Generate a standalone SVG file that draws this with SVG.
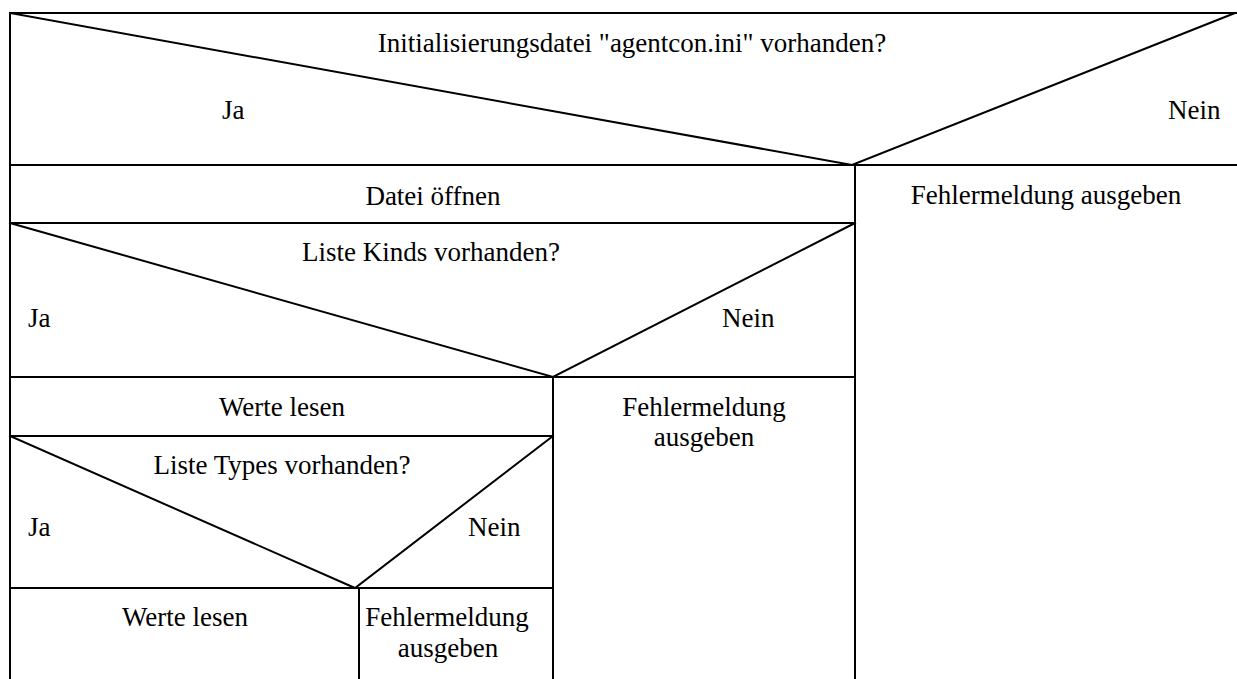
<svg xmlns="http://www.w3.org/2000/svg" width="1237" height="679" viewBox="0 0 1237 679">
  <style>
    .ln { stroke: #000; stroke-width: 2; fill: none; stroke-linecap: square; }
    text { font-family: "Liberation Serif", "Times New Roman", serif; font-size: 27px; fill: #000; }
    .c { text-anchor: middle; }
  </style>
  <rect width="1237" height="679" fill="#fff"/>

  <!-- decision: init file present -->
  <g id="decision-ini">
    <path class="ln" d="M10 13 H1237 M10 13 V165 M10 13 L852 165 L1235 13 M10 165 H1237"/>
    <text class="c" x="632" y="52">Initialisierungsdatei "agentcon.ini" vorhanden?</text>
    <text x="222" y="119">Ja</text>
    <text x="1168" y="119">Nein</text>
  </g>

  <!-- yes branch -->
  <g id="open-file">
    <path class="ln" d="M10 165 V223 M10 223 H855"/>
    <text class="c" x="433" y="205">Datei öffnen</text>
  </g>

  <g id="decision-kinds">
    <path class="ln" d="M10 223 V377 M10 223 L553 377 L855 223 M10 377 H855"/>
    <text class="c" x="431" y="261">Liste Kinds vorhanden?</text>
    <text x="28" y="327">Ja</text>
    <text x="722" y="327">Nein</text>
  </g>

  <g id="read-kinds">
    <path class="ln" d="M10 377 V436 M10 436 H553"/>
    <text class="c" x="282" y="416">Werte lesen</text>
  </g>

  <g id="decision-types">
    <path class="ln" d="M10 436 V588 M10 436 L355 588 L553 436 M10 588 H553"/>
    <text class="c" x="282" y="474">Liste Types vorhanden?</text>
    <text x="28" y="536">Ja</text>
    <text x="468" y="536">Nein</text>
  </g>

  <g id="read-types">
    <path class="ln" d="M10 588 V679"/>
    <text class="c" x="185" y="626">Werte lesen</text>
  </g>

  <g id="error-types">
    <path class="ln" d="M359 588 V679"/>
    <text class="c" x="447" y="626">Fehlermeldung</text>
    <text class="c" x="448" y="657">ausgeben</text>
  </g>

  <g id="error-kinds">
    <path class="ln" d="M553 377 V679"/>
    <text class="c" x="704" y="416">Fehlermeldung</text>
    <text class="c" x="704" y="446">ausgeben</text>
  </g>

  <!-- no branch -->
  <g id="error-ini">
    <path class="ln" d="M855 165 V679"/>
    <text class="c" x="1046" y="204">Fehlermeldung ausgeben</text>
  </g>

  <g id="connectors"/>
</svg>
